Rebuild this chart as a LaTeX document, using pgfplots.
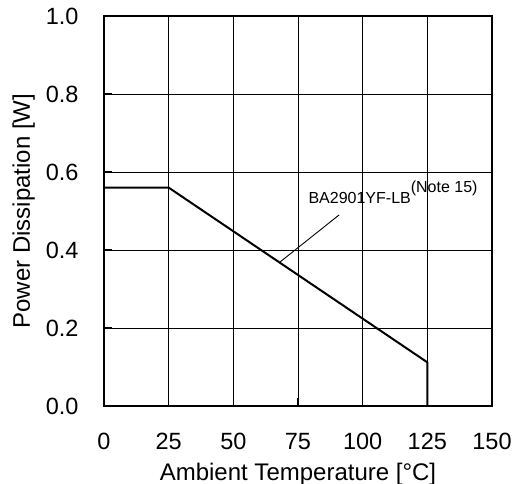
\documentclass[border=0pt]{standalone}
\usepackage{fontspec}
\setmainfont{Liberation Sans}
\usepackage{pgfplots}
\pgfplotsset{compat=1.18}
\begin{document}
\begin{tikzpicture}
\begin{axis}[
  scale only axis,
  width=388bp, height=390bp,
  xmin=0, xmax=150, ymin=0, ymax=1.0,
  xtick={0,25,50,75,100,125,150},
  ytick={0,0.2,0.4,0.6,0.8,1.0},
  grid=major,
  major grid style={black, line width=0.6bp},
  axis line style={black, line width=2.3bp},
  tick align=inside,
  xtick pos=bottom, ytick pos=left,
  major tick length=8bp,
  tick style={black, line width=1.6bp},
  /pgf/number format/assume math mode=true,
  yticklabel style={/pgf/number format/fixed, /pgf/number format/fixed zerofill, /pgf/number format/precision=1},
  ticklabel style={font=\fontsize{23.5bp}{27bp}\selectfont},
  xticklabel style={yshift=-24bp},
  yticklabel style={xshift=-22bp},
  label style={font=\fontsize{24bp}{28bp}\selectfont},
  xlabel={Ambient Temperature [°C]},
  ylabel={Power Dissipation [W]},
  xlabel style={at={(axis description cs:0.5,0)}, anchor=base, yshift=-74bp},
  ylabel style={at={(axis description cs:0,0.5)}, anchor=base, yshift=74bp},
  clip=false,
]
\addplot[black, line width=2bp, line join=miter] coordinates {(0,0.56) (25,0.56) (125,0.112) (125,0)};
\draw[black, line width=0.9bp] (axis cs:68,0.369) -- (axis cs:90.9,0.49);
\node[anchor=base west, inner sep=0pt, font=\fontsize{16bp}{18bp}\selectfont] at (axis cs:79,0.518) {BA2901YF-LB\raisebox{11bp}{(Note 15)}};
\coordinate (sw) at (rel axis cs:0,0);
\coordinate (ne) at (rel axis cs:1,1);
\end{axis}
\pgfresetboundingbox
\path ([shift={(-104bp,-78bp)}]sw) rectangle ([shift={(26bp,16bp)}]ne);
\end{tikzpicture}
\end{document}
